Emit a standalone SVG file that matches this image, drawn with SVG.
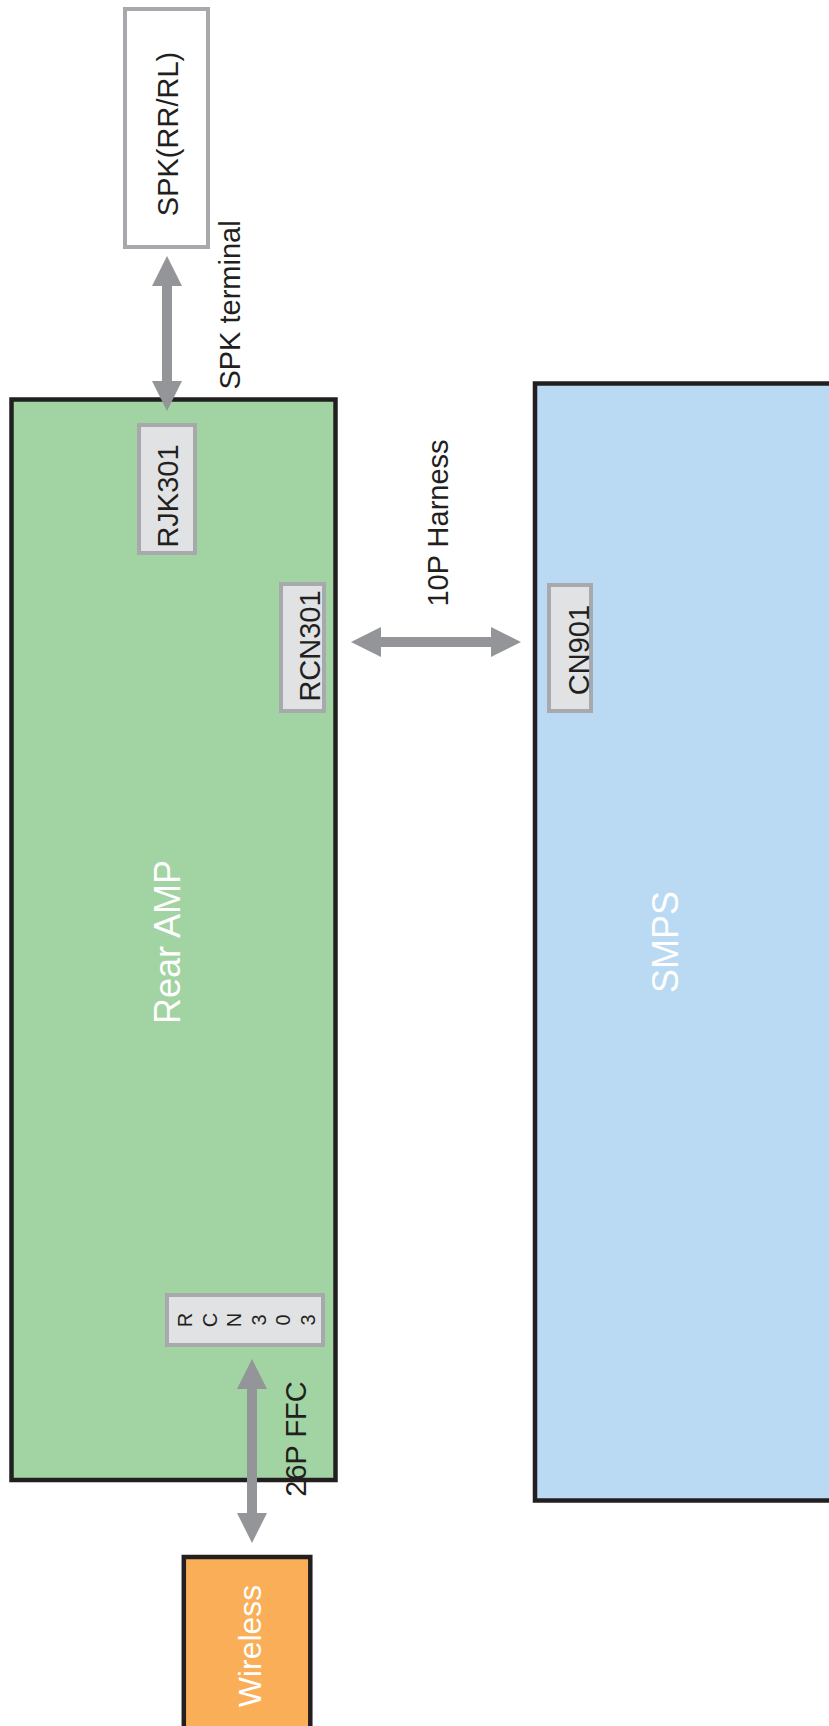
<svg xmlns="http://www.w3.org/2000/svg" width="829" height="1726" viewBox="0 0 829 1726">
<defs>
<style>
text{font-family:"Liberation Sans",Arial,sans-serif;text-anchor:middle;}
.board{stroke:#231f20;stroke-width:4.5;}
.conn{fill:#e1e2e4;stroke:#a7a9ac;stroke-width:4;}
.lbl{font-size:29px;fill:#231f20;}
.big{font-size:36px;fill:#ffffff;}
.link{stroke:#939598;stroke-width:10;fill:none;marker-start:url(#ah);marker-end:url(#ah);}
</style>
<marker id="ah" viewBox="0 0 30 30" refX="0" refY="15" markerWidth="30" markerHeight="30" markerUnits="userSpaceOnUse" orient="auto-start-reverse">
<path d="M0,0 L30,15 L0,30 z" fill="#939598"/>
</marker>
</defs>
<rect width="829" height="1726" fill="#ffffff"/>

<g id="spk">
<rect x="125" y="9" width="83" height="238" fill="#ffffff" stroke="#a7a9ac" stroke-width="4"/>
<text class="lbl" transform="translate(178,134) rotate(-90)">SPK(RR/RL)</text>
</g>

<g id="rear-amp">
<rect class="board" x="11.5" y="399.5" width="324" height="1080.5" fill="#a2d3a2"/>
<text class="big" transform="translate(180,942) rotate(-90)">Rear AMP</text>
</g>

<g id="rjk301">
<rect class="conn" x="139" y="425" width="56" height="128"/>
<text class="lbl" transform="translate(178,496) rotate(-90)">RJK301</text>
</g>

<g id="rcn301">
<rect class="conn" x="281" y="584" width="43" height="127"/>
<text class="lbl" transform="translate(319.5,646) rotate(-90)">RCN301</text>
</g>

<g id="rcn303">
<rect class="conn" x="167" y="1295" width="156" height="50"/>
<text transform="translate(192,1320) rotate(-90)" style="font-size:20px;fill:#231f20">
<tspan x="0" y="0">R</tspan><tspan x="0" y="24.5">C</tspan><tspan x="0" y="49">N</tspan><tspan x="0" y="73.5">3</tspan><tspan x="0" y="98">0</tspan><tspan x="0" y="122.5">3</tspan>
</text>
</g>

<g id="smps">
<rect class="board" x="535" y="383.5" width="310" height="1117" fill="#b9daf2"/>
<text class="big" transform="translate(678,942) rotate(-90)">SMPS</text>
</g>

<g id="cn901">
<rect class="conn" x="549" y="585" width="42" height="126"/>
<text class="lbl" transform="translate(589,650) rotate(-90)">CN901</text>
</g>

<g id="wireless">
<rect class="board" x="183.8" y="1557" width="126.5" height="200" fill="#f9ae57"/>
<text transform="translate(261,1646) rotate(-90)" style="font-size:32px;fill:#ffffff">Wireless</text>
</g>

<g id="connectors">
<line class="link" x1="167" y1="286" x2="167" y2="381"/>
<line class="link" x1="381" y1="642" x2="491" y2="642"/>
<line class="link" x1="252" y1="1389" x2="252" y2="1513"/>
<text class="lbl" transform="translate(240,305) rotate(-90)">SPK terminal</text>
<text class="lbl" transform="translate(448,523) rotate(-90)">10P Harness</text>
<text class="lbl" transform="translate(306,1439) rotate(-90)">26P FFC</text>
</g>
</svg>
